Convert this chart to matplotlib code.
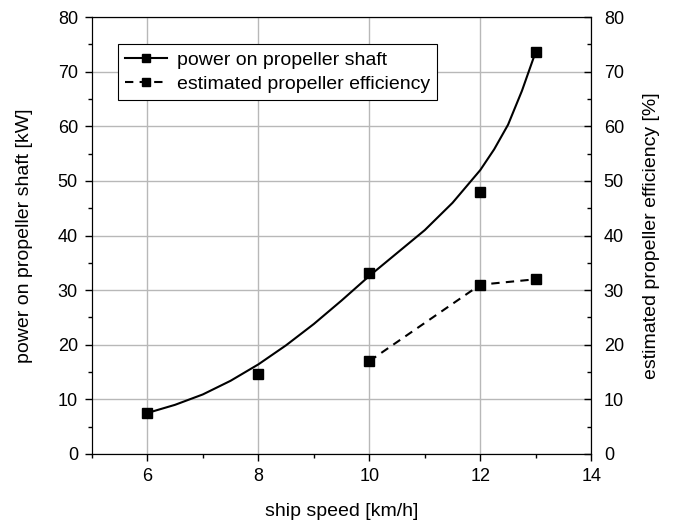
import matplotlib.pyplot as plt
from matplotlib.ticker import MultipleLocator
from matplotlib.lines import Line2D

plt.rcParams['font.family'] = ['Liberation Sans', 'DejaVu Sans']

# measured points
speed = [6, 8, 10, 12, 13]
power = [7.5, 14.6, 33.2, 48.0, 73.7]
eff_speed = [10, 12, 13]
efficiency = [17.0, 31.0, 32.0]

# trend curve for power
curve_speed = [6, 6.5, 7, 7.5, 8, 8.5, 9, 9.5, 10, 10.5, 11, 11.5, 12, 12.25, 12.5, 12.75, 13]
curve_power = [7.5, 9.0, 10.9, 13.4, 16.4, 19.9, 23.8, 28.1, 32.6, 36.8, 41.0, 46.0, 52.0,
               55.8, 60.3, 66.5, 73.7]

fig = plt.figure(figsize=(6.75, 5.2), dpi=100)
ax = fig.add_axes([0.136, 0.127, 0.740, 0.840])
ax2 = ax.twinx()

ax.plot(curve_speed, curve_power, color='black', lw=1.5)
ax.plot(speed, power, 's', color='black', ms=6.5)
ax2.plot(eff_speed, efficiency, '--s', color='black', lw=1.5, ms=6.5, dashes=(4, 3))

ax.set_xlim(5, 14)
ax.set_ylim(0, 80)
ax2.set_ylim(0, 80)
ax.set_xticks([6, 8, 10, 12, 14])
ax.xaxis.set_minor_locator(MultipleLocator(1))
ax.yaxis.set_major_locator(MultipleLocator(10))
ax.yaxis.set_minor_locator(MultipleLocator(5))
ax2.yaxis.set_major_locator(MultipleLocator(10))
ax2.yaxis.set_minor_locator(MultipleLocator(5))

ax.grid(True, which='major', color='#b8b8b8', lw=1)
ax.tick_params(axis='both', which='major', direction='out', length=5, labelsize=13, width=1, pad=5)
ax.tick_params(axis='both', which='minor', direction='out', length=3, width=1)
ax2.tick_params(axis='y', which='major', direction='in', length=5, labelsize=13, width=1, pad=9)
ax2.tick_params(axis='y', which='minor', direction='in', length=3, width=1)

ax.set_xlabel('ship speed [km/h]', fontsize=14, labelpad=13)
ax.set_ylabel('power on propeller shaft [kW]', fontsize=14, labelpad=18)
ax2.set_ylabel('estimated propeller efficiency [%]', fontsize=14, labelpad=14)

handles = [Line2D([], [], color='black', lw=1.5, marker='s', ms=6),
           Line2D([], [], color='black', lw=1.5, ls='--', dashes=(4, 3), marker='s', ms=6)]
leg = ax.legend(handles, ['power on propeller shaft', 'estimated propeller efficiency'],
                loc='upper left', bbox_to_anchor=(0.052, 0.938), borderaxespad=0, fontsize=14,
                fancybox=False, framealpha=1, edgecolor='black',
                handlelength=2.2, handletextpad=0.5, borderpad=0.35, labelspacing=0.35)
leg.get_frame().set_linewidth(0.8)

fig.savefig('out.png', dpi=100)
